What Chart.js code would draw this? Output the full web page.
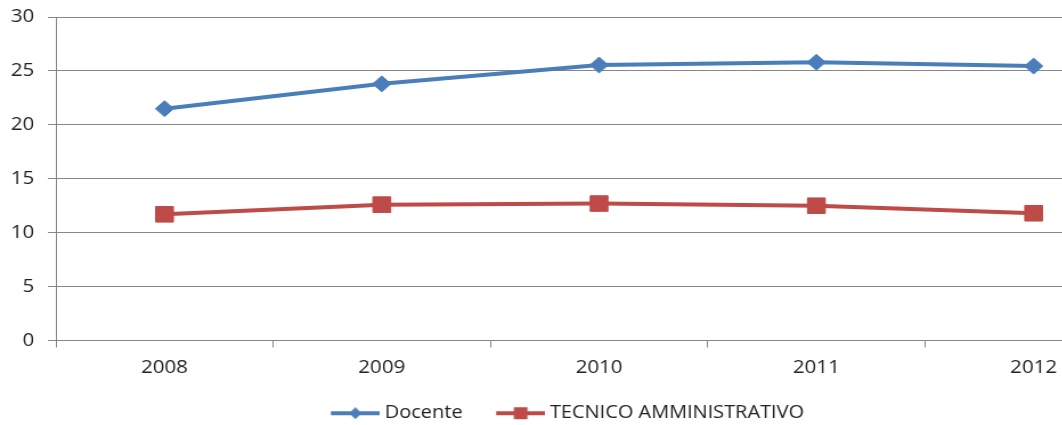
<!DOCTYPE html>
<html>
<head>
<meta charset="utf-8">
<script src="https://cdn.jsdelivr.net/npm/chart.js@4/dist/chart.umd.min.js"></script>
<style>
  html, body { margin: 0; padding: 0; background: #fff; overflow: hidden; }
  /* the reference picture is stretched horizontally, so the chart is too */
  #wrap { width: 1021px; height: 425px; transform: scaleX(1.14); transform-origin: 0 0; }
</style>
</head>
<body>
<div id="wrap"><canvas id="chart" width="1021" height="425"></canvas></div>
<script>
const years = ["2008", "2009", "2010", "2011", "2012"];
const docente = [21.5, 23.8, 25.55, 25.8, 25.45];
const tecnico = [11.7, 12.6, 12.7, 12.5, 11.8];
const yTicks = [0, 5, 10, 15, 20, 25, 30];

const blue = "#4A7EBB";
const red = "#BE4B48";
const gridColor = "#878787";
const textColor = "#222222";
const fontFamily = "'Open Sans', sans-serif";

// legend icon: transparent lead, then a short line with the marker in the middle
const lead = 12;
function legendIcon(color, shape) {
  const c = document.createElement("canvas");
  c.width = lead + 43;
  c.height = 16;
  const g = c.getContext("2d");
  g.strokeStyle = color;
  g.fillStyle = color;
  g.lineWidth = 4;
  g.beginPath();
  g.moveTo(lead, 8);
  g.lineTo(lead + 43, 8);
  g.stroke();
  g.beginPath();
  const cx = lead + 21.5;
  if (shape === "diamond") {
    g.moveTo(cx, 2);
    g.lineTo(cx + 5.5, 8);
    g.lineTo(cx, 14);
    g.lineTo(cx - 5.5, 8);
    g.closePath();
    g.fill();
  } else {
    g.fillRect(cx - 6, 2, 12, 12);
  }
  return c;
}
const icons = [legendIcon(blue, "diamond"), legendIcon(red, "square")];

const data = {
  labels: years,
  datasets: [
    {
      label: "Docente",
      data: docente,
      borderColor: blue,
      backgroundColor: blue,
      borderWidth: 4,
      pointStyle: "rectRot",
      pointRadius: 8,
      pointBorderWidth: 1,
      tension: 0,
    },
    {
      label: "TECNICO AMMINISTRATIVO",
      data: tecnico,
      borderColor: red,
      backgroundColor: red,
      borderWidth: 4,
      pointStyle: "rect",
      pointRadius: 11,
      pointBorderWidth: 1,
      tension: 0,
    },
  ],
};

const options = {
  responsive: false,
  animation: false,
  layout: {
    padding: { top: 17, right: 19, left: -14, bottom: -7 },
  },
  scales: {
    x: {
      offset: true,
      grid: {
        offset: true,
        drawOnChartArea: false,
        drawTicks: true,
        tickLength: 7,
        color: gridColor,
      },
      border: { color: gridColor },
      ticks: {
        color: textColor,
        font: { family: fontFamily, size: 18 },
        padding: 10,
        maxRotation: 0,
      },
      afterFit: (scale) => { scale.height = 42; },
    },
    y: {
      min: 0,
      max: 30,
      afterBuildTicks: (scale) => { scale.ticks = yTicks.map((v) => ({ value: v })); },
      grid: {
        color: gridColor,
        tickLength: 7,
      },
      border: { color: gridColor },
      ticks: {
        color: textColor,
        font: { family: fontFamily, size: 18 },
        padding: 12,
      },
      afterFit: (scale) => {
        scale.width = 63;
        scale.paddingTop = 0;
        scale.paddingBottom = 0;
      },
    },
  },
  plugins: {
    legend: {
      position: "bottom",
      labels: {
        color: textColor,
        font: { family: fontFamily, size: 17.5 },
        usePointStyle: true,
        pointStyleWidth: 46,
        padding: 22,
        generateLabels: (chart) =>
          Chart.defaults.plugins.legend.labels.generateLabels(chart).map((item, i) => {
            item.pointStyle = icons[i];
            return item;
          }),
      },
    },
    tooltip: { enabled: false },
  },
};

new Chart(document.getElementById("chart").getContext("2d"), {
  type: "line",
  data: data,
  options: options,
});
</script>
</body>
</html>
